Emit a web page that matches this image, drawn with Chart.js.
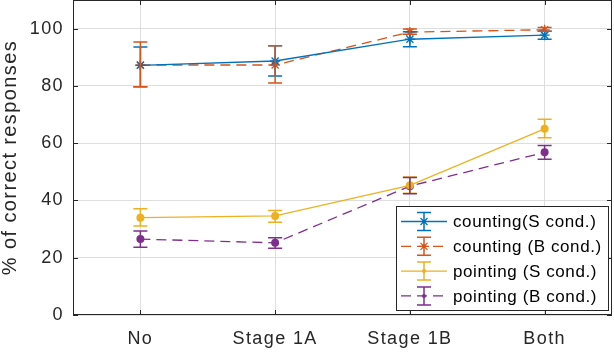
<html>
<head>
<script src="https://cdn.jsdelivr.net/npm/chart.js@4.4.0/dist/chart.umd.min.js"></script>
<style>
  body { margin: 0; background: #fff; }
  #wrap { width: 614px; height: 352px; }
</style>
</head>
<body>
<div id="wrap"><canvas id="canvas"></canvas></div>
<script>
// values
var labels = ['No', 'Stage 1A', 'Stage 1B', 'Both'];

var countS = [87.2, 88.7, 96.3, 97.7];
var countSLow = [79.7, 83.5, 93.7, 96.3];
var countSHigh = [93.6, 94.0, 98.9, 99.1];

var countB = [87.3, 87.3, 98.8, 99.6];
var countBLow = [79.7, 81.0, 98.0, 99.1];
var countBHigh = [95.3, 94.0, 99.9, 100.4];

var pointS = [34.0, 34.6, 45.3, 65.0];
var pointSLow = [31.1, 32.4, 42.5, 61.9];
var pointSHigh = [37.1, 36.5, 48.2, 68.4];

var pointB = [26.5, 25.2, 45.0, 56.8];
var pointBLow = [23.7, 23.3, 42.3, 54.4];
var pointBHigh = [29.3, 27.0, 48.0, 59.2];

var seriesNames = ['counting(S cond.)', 'counting (B cond.)', 'pointing (S cond.)', 'pointing (B cond.)'];
var blue = '#0072BD', orange = '#D95319', yellow = '#EDB120', purple = '#7E2F8E';
var txt = '#262626';

function ds(name, data, low, high, col, dashed, marker) {
  return {
    label: name,
    data: data,
    errLow: low,
    errHigh: high,
    borderColor: col,
    backgroundColor: col,
    borderWidth: 1.3,
    borderDash: dashed ? [10, 6] : [],
    pointStyle: marker,
    pointRadius: marker == 'star' ? 5 : 4,
    pointBorderWidth: marker == 'star' ? 1.3 : 0,
    pointBorderColor: col,
    pointBackgroundColor: col,
    tension: 0
  };
}

var spacing = function (chart) {
  chart.ctx.letterSpacing = '1.4px';
};

var errorBars = {
  id: 'errorBars',
  beforeLayout: spacing,
  beforeDraw: spacing,
  afterDatasetsDraw: function (chart) {
    var ctx = chart.ctx, xs = chart.scales.x, ys = chart.scales.y;
    chart.data.datasets.forEach(function (d) {
      ctx.save();
      ctx.strokeStyle = d.borderColor;
      ctx.lineWidth = 1.5;
      for (var j = 0; j < d.data.length; j++) {
        var x = xs.getPixelForValue(j);
        var y1 = ys.getPixelForValue(d.errLow[j]);
        var y2 = ys.getPixelForValue(d.errHigh[j]);
        ctx.beginPath();
        ctx.moveTo(x, y1); ctx.lineTo(x, y2);
        ctx.moveTo(x - 7, y1); ctx.lineTo(x + 7, y1);
        ctx.moveTo(x - 7, y2); ctx.lineTo(x + 7, y2);
        ctx.stroke();
      }
      ctx.restore();
    });
  },
  afterDraw: function (chart) {
    var ctx = chart.ctx, a = chart.chartArea, xs = chart.scales.x, ys = chart.scales.y;
    ctx.save();
    // box + inward ticks, matlab style
    ctx.strokeStyle = txt;
    ctx.lineWidth = 1;
    ctx.strokeRect(a.left + 0.5, a.top + 0.5, a.right - a.left - 1, a.bottom - a.top - 1);
    ctx.beginPath();
    for (var j = 0; j < labels.length; j++) {
      var x = Math.round(xs.getPixelForValue(j)) + 0.5;
      ctx.moveTo(x, a.bottom); ctx.lineTo(x, a.bottom - 5);
      ctx.moveTo(x, a.top); ctx.lineTo(x, a.top + 5);
    }
    ys.ticks.forEach(function (t) {
      var y = Math.round(ys.getPixelForValue(t.value)) + 0.5;
      ctx.moveTo(a.left, y); ctx.lineTo(a.left + 5, y);
      ctx.moveTo(a.right, y); ctx.lineTo(a.right - 5, y);
    });
    ctx.stroke();

    // legend box
    var bx = 396, by = 206, bw = 212, bh = 104;
    ctx.fillStyle = '#fff';
    ctx.fillRect(bx, by, bw, bh);
    ctx.strokeRect(bx + 0.5, by + 0.5, bw, bh);
    ctx.font = '17px "Liberation Sans", Arial, sans-serif';
    ctx.letterSpacing = '0.6px';
    ctx.textBaseline = 'middle';
    chart.data.datasets.forEach(function (d, i) {
      var cy = 221.5 + i * 24.8, cx = 424;
      ctx.strokeStyle = d.borderColor;
      ctx.lineWidth = 1.3;
      ctx.setLineDash(d.borderDash);
      ctx.beginPath();
      ctx.moveTo(401, cy); ctx.lineTo(447, cy);
      ctx.stroke();
      ctx.setLineDash([]);
      ctx.lineWidth = 1.5;
      ctx.beginPath();
      ctx.moveTo(cx, cy - 9); ctx.lineTo(cx, cy + 9);
      ctx.moveTo(cx - 7, cy - 9); ctx.lineTo(cx + 7, cy - 9);
      ctx.moveTo(cx - 7, cy + 9); ctx.lineTo(cx + 7, cy + 9);
      ctx.stroke();
      if (d.pointStyle == 'star') {
        ctx.lineWidth = 1.2;
        ctx.beginPath();
        ctx.moveTo(cx - 5, cy); ctx.lineTo(cx + 5, cy);
        ctx.moveTo(cx - 3.5, cy - 3.5); ctx.lineTo(cx + 3.5, cy + 3.5);
        ctx.moveTo(cx - 3.5, cy + 3.5); ctx.lineTo(cx + 3.5, cy - 3.5);
        ctx.stroke();
      }
      ctx.fillStyle = d.borderColor;
      ctx.beginPath();
      ctx.arc(cx, cy, 2, 0, Math.PI * 2);
      ctx.fill();
      ctx.fillStyle = '#000';
      ctx.fillText(d.label, 453, cy + 1);
    });
    ctx.restore();
  }
};

var ctx = document.getElementById('canvas').getContext('2d');
var chart = new Chart(ctx, {
  type: 'line',
  data: {
    labels: labels,
    datasets: [
      ds(seriesNames[0], countS, countSLow, countSHigh, blue, false, 'star'),
      ds(seriesNames[1], countB, countBLow, countBHigh, orange, true, 'star'),
      ds(seriesNames[2], pointS, pointSLow, pointSHigh, yellow, false, 'circle'),
      ds(seriesNames[3], pointB, pointBLow, pointBHigh, purple, true, 'circle')
    ]
  },
  options: {
    responsive: true,
    maintainAspectRatio: false,
    animation: false,
    layout: { autoPadding: false, padding: { top: 0, right: 2, left: 0, bottom: 0 } },
    plugins: { legend: { display: false }, tooltip: { enabled: false } },
    scales: {
      x: {
        offset: true,
        grid: { offset: false, color: '#dedede', drawTicks: false },
        border: { display: false },
        ticks: { color: txt, padding: 13, font: { family: '"Liberation Sans", Arial, sans-serif', size: 18 } },
        afterFit: function (s) { s.height = 37; s.paddingLeft = 0; s.paddingRight = 0; }
      },
      y: {
        min: 0,
        max: 110,
        grid: { color: '#dedede', drawTicks: false },
        border: { display: false },
        ticks: { stepSize: 20, includeBounds: false, color: txt, padding: 9, font: { family: '"Liberation Sans", Arial, sans-serif', size: 18 } },
        title: {
          display: true,
          text: '% of correct responses',
          color: txt,
          padding: 0,
          font: { family: '"Liberation Sans", Arial, sans-serif', size: 20, lineHeight: 1.0 }
        },
        afterFit: function (s) { s.width = 73; s.paddingTop = 0; s.paddingBottom = 0; }
      }
    }
  },
  plugins: [errorBars]
});
</script>
</body>
</html>
